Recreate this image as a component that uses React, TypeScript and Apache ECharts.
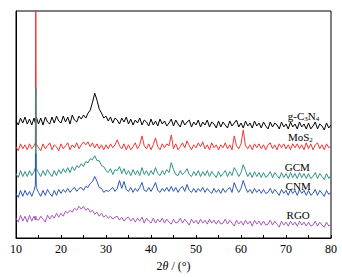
import React, { useEffect, useRef } from "react";
import * as echarts from "echarts";

// 2θ sample positions (degrees)
const twoThetaHead = [10, 10.5, 11, 11.5, 12, 12.5, 13, 13.5, 14, 14.3, 14.4, 14.5];
const twoThetaTail: number[] = [];
for (let k = 0; k <= 130; k++) twoThetaTail.push(15 + k * 0.5);
const twoTheta = [...twoThetaHead, ...twoThetaTail];

// intensities (arbitrary units, stacked offsets as in the figure)
const gC3N4 = [
  118, 114, 121, 116, 122, 115, 120, 114, 121, 116, 119, 122,
  115, 121, 114, 122, 117, 115, 122, 116, 123, 118,
  116, 123, 117, 122, 115, 124, 119, 117, 123, 120,
  124, 121, 126, 129, 137, 146, 139, 130, 126, 121,
  123, 118, 122, 116, 121, 119, 115, 121, 117, 122,
  115, 120, 114, 119, 116, 121, 114, 119, 117, 113,
  120, 114, 118, 113, 120, 115, 118, 113, 116, 120,
  113, 119, 115, 112, 119, 114, 117, 119, 112, 117,
  114, 119, 112, 117, 114, 119, 112, 117, 115, 111,
  118, 112, 117, 114, 111, 118, 113, 116, 119, 112,
  116, 111, 118, 113, 116, 111, 118, 113, 116, 111,
  117, 113, 110, 117, 112, 116, 114, 110, 117, 112,
  115, 110, 117, 112, 115, 110, 117, 112, 115, 110,
  116, 110, 113, 117, 110, 115, 113, 109, 116, 111,
  114,
];

const moS2 = [
  92, 88, 95, 90, 94, 89, 95, 90, 93, 96, 260, 95,
  91, 88, 95, 90, 93, 96, 89, 94, 92, 88,
  95, 90, 93, 96, 89, 94, 91, 96, 90, 94,
  97, 94, 97, 92, 96, 91, 95, 90, 94, 89,
  94, 90, 95, 91, 94, 99, 93, 90, 95, 89,
  94, 89, 92, 96, 90, 94, 103, 93, 90, 95,
  89, 94, 101, 92, 89, 95, 91, 95, 93, 104,
  90, 95, 89, 92, 96, 91, 98, 93, 89, 94,
  91, 96, 92, 97, 90, 94, 89, 96, 91, 94,
  89, 94, 91, 96, 90, 94, 89, 103, 93, 90,
  95, 109, 93, 90, 94, 89, 95, 91, 95, 90,
  94, 89, 94, 96, 90, 94, 89, 95, 91, 95,
  90, 94, 89, 95, 91, 95, 90, 94, 89, 96,
  90, 95, 89, 94, 96, 90, 94, 89, 95, 91,
  93,
];

const gcm = [
  65, 61, 68, 62, 67, 62, 68, 63, 67, 71, 151, 70,
  66, 62, 68, 63, 69, 65, 62, 68, 63, 69,
  65, 70, 66, 71, 66, 72, 68, 73, 71, 75,
  72, 77, 76, 80, 79, 83, 78, 78, 73, 72,
  68, 66, 70, 64, 69, 68, 72, 65, 70, 64,
  68, 63, 69, 64, 68, 63, 71, 64, 68, 63,
  68, 64, 71, 65, 63, 68, 64, 69, 66, 76,
  69, 64, 63, 68, 64, 66, 70, 64, 62, 67,
  63, 68, 62, 67, 63, 68, 62, 67, 64, 61,
  67, 62, 65, 68, 62, 67, 63, 71, 67, 62,
  66, 74, 68, 62, 66, 61, 67, 62, 66, 61,
  66, 61, 63, 67, 61, 66, 63, 60, 66, 61,
  65, 60, 66, 61, 65, 60, 66, 61, 65, 60,
  65, 60, 62, 66, 60, 65, 62, 59, 65, 60,
  63,
];

const cnm = [
  45, 41, 48, 42, 48, 43, 47, 42, 48, 53, 85, 51,
  46, 42, 48, 43, 49, 45, 42, 48, 43, 49,
  45, 49, 46, 50, 46, 49, 51, 47, 50, 51,
  48, 52, 51, 55, 57, 62, 57, 51, 50, 46,
  48, 47, 49, 51, 47, 50, 58, 50, 57, 49,
  47, 51, 46, 50, 47, 51, 56, 48, 47, 51,
  47, 51, 56, 48, 46, 50, 47, 51, 47, 52,
  47, 51, 46, 50, 52, 47, 54, 48, 46, 50,
  46, 50, 47, 51, 46, 50, 47, 45, 50, 46,
  49, 45, 50, 46, 49, 51, 46, 56, 50, 46,
  50, 58, 51, 46, 49, 45, 50, 46, 49, 45,
  49, 45, 46, 50, 45, 49, 46, 43, 49, 45,
  48, 43, 49, 45, 48, 43, 49, 45, 48, 43,
  48, 43, 45, 49, 43, 48, 45, 42, 48, 44,
  46,
];

const rgo = [
  20, 16, 23, 17, 22, 16, 23, 17, 22, 18, 22, 19,
  18, 22, 19, 16, 23, 19, 23, 20, 25, 21,
  25, 22, 27, 25, 28, 26, 30, 28, 32, 29,
  32, 28, 30, 26, 28, 24, 26, 22, 25, 21,
  23, 20, 22, 19, 21, 22, 18, 21, 17, 20,
  21, 17, 20, 16, 20, 17, 21, 15, 20, 17,
  15, 20, 15, 19, 16, 20, 15, 19, 16, 14,
  19, 15, 16, 20, 15, 19, 16, 13, 19, 15,
  18, 14, 19, 15, 18, 14, 19, 15, 18, 14,
  18, 14, 15, 19, 14, 18, 15, 12, 18, 14,
  17, 13, 18, 14, 17, 12, 18, 14, 17, 13,
  17, 13, 14, 18, 13, 17, 14, 11, 17, 13,
  16, 12, 17, 13, 16, 12, 17, 13, 16, 12,
  16, 12, 13, 17, 12, 16, 13, 11, 16, 12,
  14,
];

const seriesNames = ["g-C3N4", "MoS2", "GCM", "CNM", "RGO"];
const seriesColors = ["#000000", "#f23535", "#2f9283", "#2f58b2", "#a65ab8"];
const seriesData = [gC3N4, moS2, gcm, cnm, rgo];
const labelRich = [
  "{n|g-C}{s|3}{n|N}{s|4}",
  "{n|MoS}{s|2}",
  "{n|GCM}",
  "{n|CNM}",
  "{n|RGO}",
];
const labelPos: [number, number][] = [
  [73.9, 123],
  [73.2, 102],
  [72.5, 72],
  [72.7, 52],
  [72.7, 23],
];

const xTicks = [10, 20, 30, 40, 50, 60, 70, 80];
const FONT = "Liberation Serif";

export default function App() {
  const ref = useRef<HTMLDivElement>(null);
  useEffect(() => {
    if (!ref.current) return;
    const chart = echarts.init(ref.current, null, { renderer: "svg" });
    chart.setOption({
      animation: false,
      backgroundColor: "#ffffff",
      textStyle: { fontFamily: FONT },
      grid: {
        left: 16,
        right: 11,
        top: 11,
        bottom: 37,
        show: true,
        borderColor: "#000",
        borderWidth: 1,
        backgroundColor: "transparent",
      },
      xAxis: {
        type: "value",
        min: 10,
        max: 80,
        interval: 5,
        axisLine: { lineStyle: { color: "#000", width: 1 } },
        axisTick: { inside: true, length: 3, lineStyle: { color: "#000" } },
        splitLine: { show: false },
        axisLabel: {
          color: "#000",
          fontFamily: FONT,
          fontSize: 12,
          margin: 5,
          formatter: (v: number) => (xTicks.includes(v) ? String(v) : ""),
        },
        name: "{a|2}{i|θ}{a| / (°)}",
        nameLocation: "middle",
        nameGap: 22,
        nameTextStyle: {
          fontFamily: FONT,
          rich: {
            a: { fontFamily: FONT, fontSize: 12, color: "#000" },
            i: { fontFamily: FONT, fontSize: 12, color: "#000", fontStyle: "italic" },
          },
        },
      },
      yAxis: {
        type: "value",
        min: 0,
        max: 229,
        axisLine: { show: true, lineStyle: { color: "#000", width: 1 } },
        axisTick: { show: false },
        axisLabel: { show: false },
        splitLine: { show: false },
      },
      series: seriesNames.map((name, i) => ({
        name,
        type: "line",
        data: twoTheta.map((x, j) => [x, seriesData[i][j]]),
        symbol: "none",
        clip: true,
        lineStyle: { color: seriesColors[i], width: 1 },
        markPoint: {
          symbol: "circle",
          symbolSize: 0,
          silent: true,
          data: [
            {
              coord: labelPos[i],
              label: {
                show: true,
                position: "inside",
                formatter: labelRich[i],
                fontFamily: FONT,
                rich: {
                  n: { fontFamily: FONT, fontSize: 11, color: "#000" },
                  s: {
                    fontFamily: FONT,
                    fontSize: 7,
                    color: "#000",
                    padding: [6, 0, 0, 0],
                  },
                },
              },
            },
          ],
        },
      })),
    });
    return () => chart.dispose();
  }, []);
  return (
    <div
      ref={ref}
      style={{ position: "fixed", left: 0, top: 0, width: 342, height: 277 }}
    />
  );
}
